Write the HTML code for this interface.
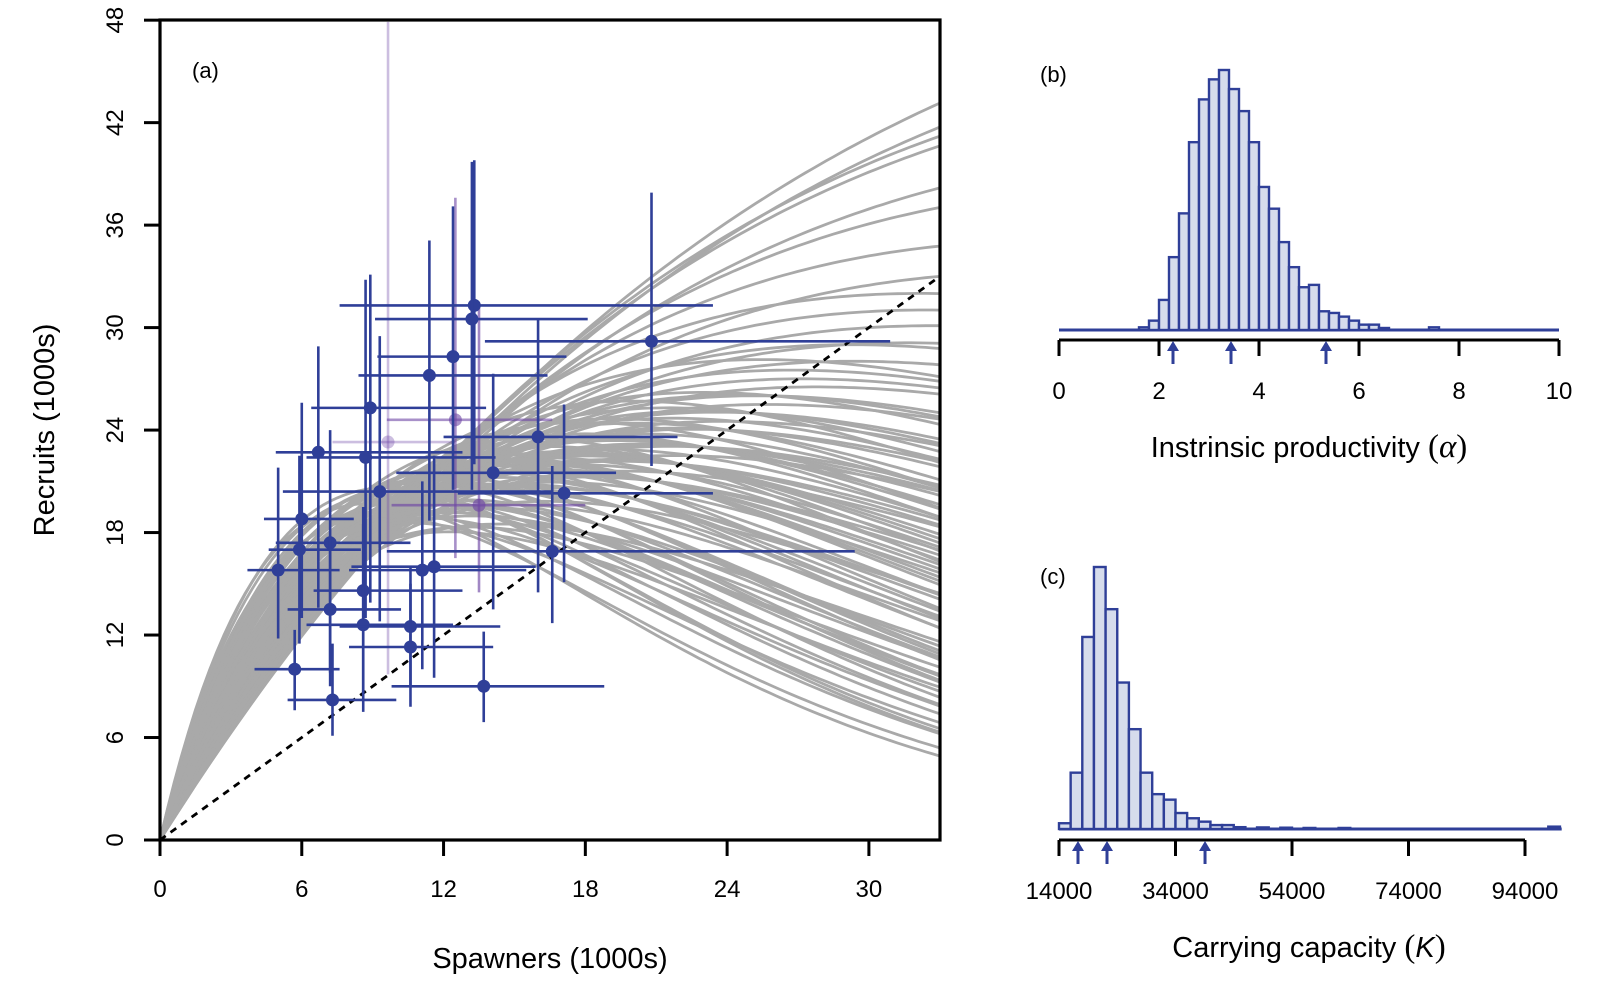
<!DOCTYPE html>
<html><head><meta charset="utf-8"><style>
html,body{margin:0;padding:0;background:#fff}
text{font-family:"Liberation Sans",Arial,sans-serif;fill:#000}
</style></head><body>
<svg id="fig" width="1600" height="1000" viewBox="0 0 1600 1000" xmlns="http://www.w3.org/2000/svg">
<defs><clipPath id="clipA"><rect x="160" y="20" width="780" height="820"/></clipPath></defs>
<g id="panelA"></g>
<g id="panelB"></g>
<g id="panelC"></g>
</svg>
<script>
// ---- Panel (a) data ----
const xTicksA = [0, 6, 12, 18, 24, 30];
const yTicksA = [0, 6, 12, 18, 24, 30, 36, 42, 48];
const drawAlpha = [3.4,3.1,3.6,2.9,4.0,3.3,2.7,4.5,3.8,3.0,2.5,5.2,3.5,3.2,2.8,4.2,3.7,2.6,3.9,3.3,2.4,2.2,2.3,4.8,3.1,3.6,2.9,4.1,3.4,2.7,5.6,6.0,3.5,3.0,4.4,2.6,3.8,3.2,2.8,4.6,3.4,3.0,2.5,3.7,4.3,2.9,3.3,5.0,3.6,2.7,3.9,3.1,2.3,3.5,4.0,2.8,3.2,4.7,3.4,2.6,3.0,3.8,2.4,4.2,3.3,2.9,5.3,3.6,3.1,2.7,4.5,3.5,3.9,2.8,3.2,4.1,3.7,2.5,3.0,5.8,2.2,2.3,4.5,5.0,4.0,4.8,3.5,3.8,4.2,5.5,3.6,4.4,3.9,4.6,3.3,5.1];
const drawK = [22,23,21,25,20,22.5,27,19,21,24,30,18,22,23.5,26,20,21.5,28,20.5,23,33,47,40,18.5,24.5,22,26,19.5,23,29,17,16,21,25,19,31,22,22,27.5,18,21.5,23,35,20,20.5,24,24,17.5,23,25.5,21,22,44,24,21,24.5,25,19,20.5,26.5,28,19.5,38,18.5,21,23,16.5,20,26,32,20,25,18.5,22.5,21,22,23.5,29,21.5,17,50,45,17.5,18.5,17,16.5,18,17.5,17.8,16,19,18,18,17,19.5,17.2];
const spawners = [13.3,13.2,20.8,12.4,11.4,8.9,16.0,6.7,8.7,14.1,9.3,17.1,6.0,7.2,5.9,16.6,11.6,11.1,5.0,8.6,7.2,8.6,10.6,10.6,5.7,13.7,7.3];
const recruits = [31.3,30.5,29.2,28.3,27.2,25.3,23.6,22.7,22.4,21.5,20.4,20.3,18.8,17.4,17.0,16.9,16.0,15.8,15.8,14.6,13.5,12.6,12.5,11.3,10.0,9.0,8.2];
const sLow = [7.6,9.1,13.75,9.2,8.4,6.4,12.0,4.9,6.2,10.0,5.2,12.6,4.4,4.9,4.6,9.6,8.1,8.0,3.7,6.5,5.4,6.2,7.6,8.0,4.0,9.8,5.4];
const sHigh = [23.4,18.1,30.9,17.2,16.4,13.8,21.9,12.8,14.2,19.3,16.6,23.4,8.2,10.6,8.5,29.4,15.9,15.5,7.6,12.8,10.2,12.4,14.4,14.1,7.6,18.8,10.0];
const rLow = [22.0,20.5,21.9,20.5,18.7,13.9,14.5,13.6,13.0,13.5,12.8,15.1,13.0,9.8,11.5,12.7,9.5,10.0,11.8,8.5,9.0,7.5,9.0,7.8,7.6,6.9,6.1];
const rHigh = [39.8,39.7,37.9,37.1,35.1,33.1,30.5,28.9,32.8,27.3,29.5,25.5,25.6,24.0,22.5,21.9,22.5,21.0,21.8,19.5,17.8,18.5,16.0,15.0,12.3,12.2,11.5];
const fadedS = [12.5, 9.65, 13.5];
const fadedR = [24.6, 23.3, 19.6];
const fadedSLow = [9.6, 7.3, 9.8];
const fadedSHigh = [16.6, 12.5, 18.0];
const fadedRLow = [16.5, 9.7, 14.5];
const fadedRHigh = [37.6, 47.9, 31.2];
const fadedOpacity = [0.6, 0.35, 0.65];
// ---- Panel (b) data ----
const alphaBinStart = [1.6,1.8,2.0,2.2,2.4,2.6,2.8,3.0,3.2,3.4,3.6,3.8,4.0,4.2,4.4,4.6,4.8,5.0,5.2,5.4,5.6,5.8,6.0,6.2,6.4,7.4];
const alphaCounts = [8,28,90,218,349,562,690,750,778,721,655,562,428,363,263,188,128,135,56,51,40,28,16,16,6,8];
const alphaTicks = [0,2,4,6,8,10];
const alphaArrows = [2.28,3.44,5.34];
// ---- Panel (c) data ----
const kBinStart = [14000,16000,18000,20000,22000,24000,26000,28000,30000,32000,34000,36000,38000,40000,42000,44000,48000,52000,56000,62000,98000];
const kCounts = [22,215,733,1000,839,559,381,215,133,112,61,41,28,15,15,7,6,5,4,4,9];
const kTicks = [14000,34000,54000,74000,94000];
const kArrows = [17260,22240,39070];

const NS='http://www.w3.org/2000/svg';
const BLUE='#2f3f98';
function mk(parent,tag,attrs,txt){const e=document.createElementNS(NS,tag);for(const k in attrs)e.setAttribute(k,attrs[k]);if(txt!==undefined)e.textContent=txt;parent.appendChild(e);return e;}

// Panel A
const A=document.getElementById('panelA');
const ax=v=>160+v*23.63, ay=v=>840-v*17.08;
const curves=mk(A,'g',{'clip-path':'url(#clipA)'});


for(let i=0;i<drawAlpha.length;i++){
  let d='';
  for(let s=0;s<=33.2;s+=0.3){const r=s*Math.pow(drawAlpha[i],1-s/drawK[i]);d+=(s===0?'M':'L')+ax(s).toFixed(1)+','+ay(r).toFixed(1);}
  const p=mk(curves,'path',{d:d,fill:'none',stroke:'#a9a9a9','stroke-width':2.8});
  
  
}
const rep=mk(A,'line',{x1:ax(0),y1:ay(0),x2:ax(33),y2:ay(33),stroke:'#000','stroke-width':2.8,'stroke-dasharray':'7,6','clip-path':'url(#clipA)'});


function drawPts(S,R,SL,SH,RL,RH,colFn,name){
  const g=mk(A,'g',{'clip-path':'url(#clipA)'});
  
  
  for(let i=0;i<S.length;i++){
    const col=colFn(i);
    mk(g,'line',{x1:ax(SL[i]),x2:ax(SH[i]),y1:ay(R[i]),y2:ay(R[i]),stroke:col,'stroke-width':2.6});
    mk(g,'line',{x1:ax(S[i]),x2:ax(S[i]),y1:ay(RL[i]),y2:ay(RH[i]),stroke:col,'stroke-width':2.6});
    const c=mk(g,'circle',{cx:ax(S[i]),cy:ay(R[i]),r:6.5,fill:col});
    
    
  }
}
drawPts(fadedS,fadedR,fadedSLow,fadedSHigh,fadedRLow,fadedRHigh,i=>`rgba(110,70,165,${fadedOpacity[i]})`,'faded-observations');
drawPts(spawners,recruits,sLow,sHigh,rLow,rHigh,()=>BLUE,'observations');
const boxA=mk(A,'rect',{x:160,y:20,width:780,height:820,fill:'none',stroke:'#000','stroke-width':3.2});


xTicksA.forEach(t=>{mk(A,'line',{x1:ax(t),x2:ax(t),y1:840,y2:856,stroke:'#000','stroke-width':3});
  const l=mk(A,'text',{x:ax(t),y:897,'font-size':24,'text-anchor':'middle'},t);
  });
yTicksA.forEach(t=>{mk(A,'line',{x1:144,x2:160,y1:ay(t),y2:ay(t),stroke:'#000','stroke-width':3});
  const l=mk(A,'text',{x:0,y:0,'font-size':24,'text-anchor':'middle',transform:`translate(123,${ay(t)}) rotate(-90)`},t);
  });
const xt=mk(A,'text',{x:550,y:968,'font-size':29,'text-anchor':'middle'},'Spawners (1000s)');

const yt=mk(A,'text',{x:0,y:0,'font-size':29,'text-anchor':'middle',transform:'translate(54,430) rotate(-90)'},'Recruits (1000s)');

const la=mk(A,'text',{x:192,y:78,'font-size':22},'(a)');


function hist(P,bx,base,hscale,starts,counts,wUnits,lineFrom,lineTo,name){
  const g=mk(P,'g',{});
  
  
  mk(g,'line',{x1:bx(lineFrom),x2:bx(lineTo),y1:base,y2:base,stroke:BLUE,'stroke-width':3});
  for(let i=0;i<starts.length;i++){
    const x0=bx(starts[i]),x1=bx(starts[i]+wUnits),h=counts[i]*hscale;
    const r=mk(g,'rect',{x:x0,y:base-h,width:x1-x0,height:h,fill:'#d6dcec',stroke:BLUE,'stroke-width':2.4});
    
    
  }
}
function arrows(P,bx,axisY,vals,name){
  vals.forEach(v=>{const x=bx(v);const g=mk(P,'g',{});
    
    
    mk(g,'line',{x1:x,x2:x,y1:axisY+6,y2:axisY+24,stroke:BLUE,'stroke-width':3});
    mk(g,'polygon',{points:`${x-6},${axisY+11} ${x+6},${axisY+11} ${x},${axisY+1}`,fill:BLUE});});
}
// Panel B
const B=document.getElementById('panelB');
const bx=v=>1059+v*50;
hist(B,bx,330,260/778,alphaBinStart,alphaCounts,0.2,0,10,'alpha-histogram');
mk(B,'line',{x1:bx(0),x2:bx(10),y1:340,y2:340,stroke:'#000','stroke-width':3});
alphaTicks.forEach(t=>{mk(B,'line',{x1:bx(t),x2:bx(t),y1:340,y2:356,stroke:'#000','stroke-width':3});
  const l=mk(B,'text',{x:bx(t),y:399,'font-size':24,'text-anchor':'middle'},t);
  });
arrows(B,bx,340,alphaArrows,'alpha-quantile-arrow');
const tb=mk(B,'text',{x:1309,y:457,'font-size':29,'text-anchor':'middle'});

tb.innerHTML='Instrinsic productivity <tspan font-family="Liberation Serif" font-size="33">(</tspan><tspan font-family="Liberation Serif" font-style="italic" font-size="33">α</tspan><tspan font-family="Liberation Serif" font-size="33">)</tspan>';
const lb=mk(B,'text',{x:1040,y:82,'font-size':22},'(b)');


// Panel C
const C=document.getElementById('panelC');
const cx=v=>1059+(v-14000)*0.005825;
hist(C,cx,829,262/1000,kBinStart,kCounts,2000,14000,100300,'k-histogram');
mk(C,'line',{x1:cx(14000),x2:cx(94000),y1:840,y2:840,stroke:'#000','stroke-width':3});
kTicks.forEach(t=>{mk(C,'line',{x1:cx(t),x2:cx(t),y1:840,y2:856,stroke:'#000','stroke-width':3});
  const l=mk(C,'text',{x:cx(t),y:899,'font-size':24,'text-anchor':'middle'},t);
  });
arrows(C,cx,840,kArrows,'k-quantile-arrow');
const tc=mk(C,'text',{x:1309,y:957,'font-size':29,'text-anchor':'middle'});

tc.innerHTML='Carrying capacity <tspan font-family="Liberation Serif" font-size="33">(</tspan><tspan font-style="italic">K</tspan><tspan font-family="Liberation Serif" font-size="33">)</tspan>';
const lc=mk(C,'text',{x:1040,y:584,'font-size':22},'(c)');

</script>
</body></html>
